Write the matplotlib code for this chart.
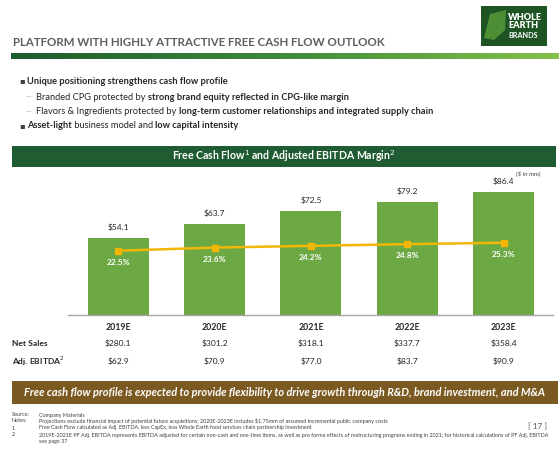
import numpy as np
import matplotlib
matplotlib.use('Agg')
import matplotlib.pyplot as plt
from matplotlib.patches import Rectangle, Polygon
from matplotlib.colors import LinearSegmentedColormap
from matplotlib.transforms import blended_transform_factory

# data
years = ['2019E', '2020E', '2021E', '2022E', '2023E']
fcf = [54.1, 63.7, 72.5, 79.2, 86.4]            # free cash flow ($mm)
margin = [22.5, 23.6, 24.2, 24.8, 25.3]         # adj. EBITDA margin (%)
net_sales = [280.1, 301.2, 318.1, 337.7, 358.4]
adj_ebitda = [62.9, 70.9, 77.0, 83.7, 90.9]

plt.rcParams['font.family'] = ['Lato', 'DejaVu Sans']

W, H = 559, 451
fig = plt.figure(figsize=(W / 100, H / 100), dpi=100)
fig.patch.set_facecolor('white')
renderer = fig.canvas.get_renderer()


def fx(x):
    return x / W


def fy(y):
    return 1 - y / H


def box(x0, y0, x1, y1, color):
    fig.add_artist(Rectangle((fx(x0), fy(y1)), fx(x1) - fx(x0), fy(y0) - fy(y1),
                             transform=fig.transFigure, facecolor=color,
                             edgecolor='none'))


def runs(x, y, parts, size, color='#262626'):
    # draw text pieces side by side, bold where asked
    for s, bold in parts:
        t = fig.text(fx(x), fy(y), s, fontsize=size, color=color, va='center',
                     fontweight='bold' if bold else 'normal')
        x += t.get_window_extent(renderer).width


# title, logo, gradient rule
fig.text(fx(13), fy(43), 'PLATFORM WITH HIGHLY ATTRACTIVE FREE CASH FLOW OUTLOOK',
         fontsize=8.3, color='#5E5E5E', va='center', fontweight='bold')

box(481, 6, 547, 46, '#1E5424')
fig.add_artist(Polygon([(fx(484), fy(38)), (fx(490), fy(14)), (fx(506), fy(10)),
                        (fx(505), fy(30)), (fx(494), fy(40))],
                       transform=fig.transFigure, facecolor='#4E8F35', edgecolor='none'))
fig.text(fx(508), fy(17), 'WHOLE', fontsize=6.6, color='white', fontweight='heavy', va='center')
fig.text(fx(508), fy(26), 'EARTH', fontsize=6.6, color='white', fontweight='heavy', va='center')
fig.text(fx(508), fy(35), 'BRANDS', fontsize=5.2, color='white', fontweight='bold', va='center')

gax = fig.add_axes([fx(11), fy(59), fx(559) - fx(11), fy(53) - fy(59)])
cmap = LinearSegmentedColormap.from_list('g', ['#1D5A2C', '#3E8B3C', '#85C04A'])
gax.imshow(np.linspace(0, 1, 256)[None, :], aspect='auto', cmap=cmap)
gax.axis('off')

# bullets
fs_b = 6.7
fig.text(fx(19), fy(81), '▪', fontsize=6, color='#404040', va='center', family='DejaVu Sans')
runs(27, 81, [('Unique positioning strengthens cash flow profile', True)], fs_b)
fig.text(fx(26), fy(97), '—', fontsize=5, color='#A0A0A0', va='center')
runs(36, 97, [('Branded CPG protected by ', False),
              ('strong brand equity reflected in CPG-like margin', True)], fs_b)
fig.text(fx(26), fy(112), '—', fontsize=5, color='#A0A0A0', va='center')
runs(36, 112, [('Flavors & Ingredients protected by ', False),
               ('long-term customer relationships and integrated supply chain', True)], fs_b)
fig.text(fx(19), fy(126), '▪', fontsize=6, color='#404040', va='center', family='DejaVu Sans')
runs(27, 126, [('Asset-light', True), (' business model and ', False),
               ('low capital intensity', True)], fs_b)

# chart header
box(12, 146, 556, 167, '#1F5C31')
fig.text(fx(284), fy(156.5), r'Free Cash Flow$^1$ and Adjusted EBITDA Margin$^2$',
         fontsize=7.6, color='white', fontweight='bold', ha='center', va='center')
fig.text(fx(540), fy(173), '($ in mm)', fontsize=4.5, color='#404040',
         style='italic', ha='right', va='center')

# bars + margin line
ax = fig.add_axes([fx(68), fy(315), fx(553) - fx(68), fy(175) - fy(315)])
x = np.arange(len(years))
ax.bar(x, fcf, width=0.633, color='#6CA843', zorder=2)
ax.set_xlim(-0.52, 4.51)
ax.set_ylim(0, 98)
for xi, v in zip(x, fcf):
    ax.annotate(f'${v:.1f}', (xi, v), xytext=(0, 5), textcoords='offset points',
                ha='center', va='bottom', fontsize=6, color='#262626')
for s in ['top', 'right', 'left']:
    ax.spines[s].set_visible(False)
ax.spines['bottom'].set_color('#A6A6A6')
ax.spines['bottom'].set_linewidth(1)
ax.set_yticks([])
ax.set_xticks(x)
ax.set_xticklabels(years, fontsize=6.3, fontweight='bold', color='#262626')
ax.tick_params(axis='x', length=0, pad=6)
ax.patch.set_alpha(0)

ax2 = ax.twinx()
ax2.set_ylim(0, 49)
ax2.plot(x, margin, color='#F2B705', lw=1.8, marker='s', markersize=5, zorder=3)
for xi, m in zip(x, margin):
    ax2.annotate(f'{m:.1f}%', (xi, m), xytext=(0, -6), textcoords='offset points',
                 ha='center', va='top', fontsize=6, color='white', fontweight='bold')
ax2.axis('off')

# table under the chart
tr = blended_transform_factory(ax.transData, fig.transFigure)
fig.text(fx(12), fy(343), 'Net Sales', fontsize=6.1, fontweight='bold', color='#262626', va='center')
fig.text(fx(12), fy(361), r'Adj. EBITDA$^2$', fontsize=6.1, fontweight='bold', color='#262626', va='center')
for xi, ns, eb in zip(x, net_sales, adj_ebitda):
    ax.text(xi, fy(343), f'${ns:.1f}', transform=tr, fontsize=6.1, ha='center', va='center', color='#262626')
    ax.text(xi, fy(361), f'${eb:.1f}', transform=tr, fontsize=6.1, ha='center', va='center', color='#262626')

# takeaway banner
box(12, 381, 558, 404, '#7B5A22')
fig.text(fx(285), fy(392.5),
         'Free cash flow profile is expected to provide flexibility to drive growth through R&D, brand investment, and M&A',
         fontsize=7.95, color='white', fontweight='bold', style='italic', ha='center', va='center')

# footnotes
notes = [('Source:', 'Company Materials', 415),
         ('Notes:', 'Projections exclude financial impact of potential future acquisitions; 2020E-2023E includes $1.75mm of assumed incremental public company costs', 421),
         ('1.', 'Free Cash Flow calculated as Adj. EBITDA, less CapEx, less Whole Earth food services chain partnership investment', 428),
         ('2.', '2019E-2021E PF Adj. EBITDA represents EBITDA adjusted for certain non-cash and one-time items, as well as pro forma effects of restructuring programs ending in 2021; for historical calculations of PF Adj. EBITDA', 435),
         ('', 'see page 37', 442)]
for lab, txt, yy in notes:
    fig.text(fx(12), fy(yy), lab, fontsize=3.85, color='#404040', va='center')
    fig.text(fx(39), fy(yy), txt, fontsize=3.85, color='#404040', va='center')
fig.text(fx(547), fy(427), '[ 17 ]', fontsize=6, color='#595959', ha='right', va='center')

fig.savefig('out.png', dpi=100)
